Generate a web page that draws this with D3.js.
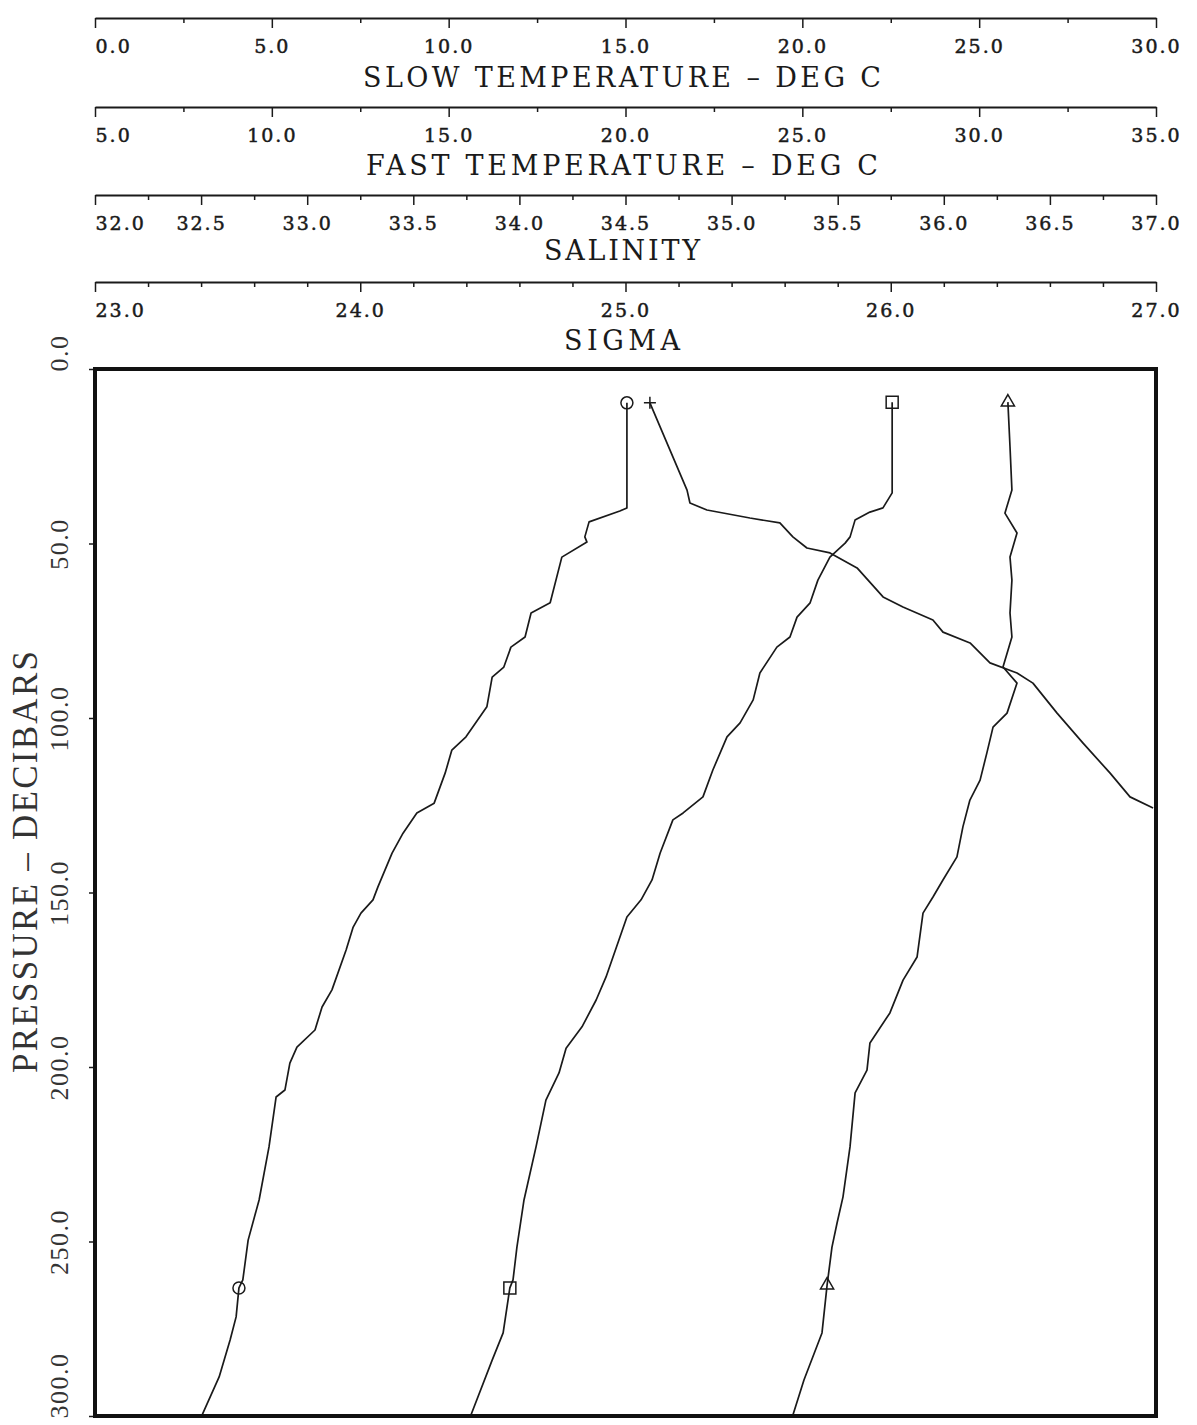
<!DOCTYPE html>
<html>
<head>
<meta charset="utf-8">
<script src="https://cdn.jsdelivr.net/npm/d3@7"></script>
<style>
  body { margin: 0; background: #fff; }
  svg { display: block; }
</style>
</head>
<body>
<div id="chart"></div>
<script>
// CTD cast: slow / fast temperature, salinity and sigma against pressure

// series values: [pressure (dbar), value]
var slowTemp = [[9.7,15.04],[39.8,15.04],[40.7,14.84],[43.8,13.97],[48.1,13.85],[49.6,13.91],[53.9,13.20],[67.0,12.87],
  [69.9,12.33],[76.8,12.16],[79.7,11.76],[85.4,11.56],[88.3,11.23],[96.8,11.08],[105.4,10.49],[109.2,10.09],[115.8,9.90],
  [124.4,9.59],[127.2,9.10],[133.0,8.71],[138.7,8.40],[148.4,8.00],[152.1,7.86],[155.9,7.52],[159.9,7.30],[166.5,7.10],
  [177.9,6.70],[182.8,6.42],[189.4,6.22],[194.3,5.71],[198.9,5.51],[206.6,5.37],[208.6,5.12],[222.9,4.92],[238.1,4.64],
  [249.6,4.33],[261.0,4.18],[263.3,4.07],[271.6,3.99],[278.2,3.82],[288.8,3.51],[299.7,3.03]];

var fastTemp = [[9.5,27.54],[35.5,27.54],[39.8,27.28],[41.0,26.91],[43.3,26.49],[48.1,26.35],[49.9,26.21],[53.9,25.78],
  [60.5,25.44],[67.0,25.22],[71.1,24.85],[76.8,24.65],[79.7,24.28],[87.1,23.80],[94.8,23.61],[101.4,23.24],[105.4,22.87],
  [114.9,22.47],[122.6,22.19],[127.2,21.63],[129.2,21.34],[138.7,20.98],[146.4,20.75],[152.1,20.44],[157.0,20.04],
  [174.2,19.45],[180.8,19.17],[188.5,18.77],[194.6,18.32],[201.7,18.12],[209.5,17.75],[222.9,17.47],[238.1,17.13],
  [251.6,16.93],[261.0,16.82],[263.3,16.73],[276.2,16.54],[284.0,16.23],[299.7,15.63]];

var salinity = [[9.5,36.302],[22.3,36.312],[34.7,36.321],[41.3,36.288],[47.0,36.345],[53.9,36.312],[60.5,36.321],
  [69.9,36.312],[76.8,36.321],[85.4,36.279],[90.0,36.345],[98.6,36.298],[102.6,36.232],[110.0,36.203],[117.8,36.171],
  [123.5,36.123],[131.2,36.090],[139.8,36.062],[146.4,35.996],[151.3,35.949],[155.9,35.902],[168.5,35.874],[175.1,35.808],
  [184.5,35.746],[193.1,35.652],[200.9,35.638],[207.4,35.582],[222.9,35.558],[237.2,35.525],[244.7,35.497],[251.6,35.473],
  [262.5,35.450],[276.2,35.426],[289.7,35.341],[299.7,35.289]];

var sigma = [[9.7,25.092],[34.7,25.232],[38.4,25.243],[40.4,25.307],[42.7,25.469],[44.1,25.582],[48.1,25.631],
  [51.3,25.684],[52.7,25.771],[57.0,25.873],[65.3,25.971],[68.2,26.046],[71.9,26.159],[75.4,26.197],[78.5,26.299],
  [84.2,26.374],[87.1,26.476],[90.0,26.536],[98.6,26.627],[107.2,26.725],[115.8,26.827],[122.6,26.902],[125.8,26.989]];

// symbol positions along each trace
var slowTempMarks = [[9.7,15.04],[263.3,4.07]];
var fastTempMarks = [[9.5,27.54],[263.3,16.73]];
var salinityMarks = [[9.5,36.302],[262.5,35.450]];
var sigmaMarks = [[9.7,25.092]];

// tick labels
var slowLabels = [0, 5, 10, 15, 20, 25, 30];
var fastLabels = [5, 10, 15, 20, 25, 30, 35];
var salLabels = [32, 32.5, 33, 33.5, 34, 34.5, 35, 35.5, 36, 36.5, 37];
var sigLabels = [23, 24, 25, 26, 27];
var pressureLabels = [0, 50, 100, 150, 200, 250, 300];

var width = 1197, height = 1425;
var X0 = 95, X1 = 1156, Y0 = 369, Y1 = 1416;
var serif = "'DejaVu Serif', 'Liberation Serif', serif";
var ink = "#1a1a1a";

var svg = d3.select("#chart").append("svg")
    .attr("width", width)
    .attr("height", height);

var xSlow = d3.scaleLinear().domain([0, 30]).range([X0, X1]);
var xFast = d3.scaleLinear().domain([5, 35]).range([X0, X1]);
var xSal = d3.scaleLinear().domain([32, 37]).range([X0, X1]);
var xSig = d3.scaleLinear().domain([23, 27]).range([X0, X1]);
var y = d3.scaleLinear().domain([0, 300]).range([Y0, Y1]);

function topAxis(scale, labels, step, yPos, title, titleY, titleLen) {
    var d = scale.domain();
    var n = Math.round((d[1] - d[0]) / step);
    var minor = d3.range(0, n + 1).map(function(i) { return d[0] + i * step; })
        .filter(function(v) {
            return !labels.some(function(l) { return Math.abs(l - v) < 1e-6; });
        });

    var g = svg.append("g").attr("transform", "translate(0," + yPos + ")");
    g.call(d3.axisBottom(scale).tickValues(minor).tickSize(5).tickSizeOuter(0).tickFormat(""));
    g.select(".domain").attr("stroke", ink).attr("stroke-width", 2);
    g.selectAll(".tick line").attr("stroke", ink).attr("stroke-width", 1.5);

    var m = svg.append("g").attr("transform", "translate(0," + yPos + ")")
        .call(d3.axisBottom(scale).tickValues(labels).tickSize(10).tickPadding(12)
            .tickSizeOuter(0).tickFormat(d3.format(".1f")));
    m.select(".domain").remove();
    m.selectAll(".tick line").attr("stroke", ink).attr("stroke-width", 1.5);
    m.selectAll(".tick text")
        .attr("fill", ink)
        .attr("stroke", ink)
        .attr("stroke-width", 0.5)
        .attr("font-family", serif)
        .attr("font-size", 19)
        .attr("letter-spacing", 2)
        .attr("text-anchor", function(v, i) { return i === 0 ? "start" : "middle"; });

    svg.append("text")
        .attr("x", 622)
        .attr("y", titleY)
        .attr("text-anchor", "middle")
        .attr("font-family", serif)
        .attr("font-size", 27)
        .attr("fill", ink)
        .attr("textLength", titleLen)
        .attr("lengthAdjust", "spacing")
        .text(title);
}

topAxis(xSlow, slowLabels, 2.5, 18, "SLOW TEMPERATURE \u2013 DEG C", 87, 518);
topAxis(xFast, fastLabels, 2.5, 107, "FAST TEMPERATURE \u2013 DEG C", 175, 512);
topAxis(xSal, salLabels, 0.25, 195, "SALINITY", 260, 156);
topAxis(xSig, sigLabels, 0.2, 282, "SIGMA", 350, 116);

// pressure axis
var left = svg.append("g").attr("transform", "translate(" + X0 + ",0)")
    .call(d3.axisLeft(y).tickValues(pressureLabels).tickSize(6).tickSizeOuter(0).tickFormat(d3.format(".1f")));
left.select(".domain").remove();
left.selectAll(".tick line").attr("stroke", ink).attr("stroke-width", 1.5);
left.selectAll(".tick text")
    .attr("transform", "rotate(-90)")
    .attr("x", function(v, i, all) { return (i === 0 || i === all.length - 1) ? -2 : 0; })
    .attr("y", -27)
    .attr("dy", 0)
    .attr("fill", "#333")
    .attr("font-family", "'Liberation Serif', serif")
    .attr("font-size", 26)
    .attr("letter-spacing", 1.5)
    .attr("text-anchor", function(v, i, all) { return (i === 0 || i === all.length - 1) ? "start" : "middle"; });

svg.append("text")
    .attr("transform", "translate(37," + 862 + ") rotate(-90)")
    .attr("text-anchor", "middle")
    .attr("font-family", "'Liberation Serif', serif")
    .attr("font-size", 35)
    .attr("fill", "#333")
    .attr("textLength", 422)
    .attr("lengthAdjust", "spacing")
    .text("PRESSURE \u2013 DECIBARS");

// traces
svg.append("clipPath").attr("id", "plotClip")
  .append("rect")
    .attr("x", X0).attr("y", Y0)
    .attr("width", X1 - X0).attr("height", Y1 - Y0);

var traces = [
    {data: slowTemp, marks: slowTempMarks, x: xSlow, shape: "circle"},
    {data: fastTemp, marks: fastTempMarks, x: xFast, shape: "square"},
    {data: salinity, marks: salinityMarks, x: xSal, shape: "triangle"},
    {data: sigma, marks: sigmaMarks, x: xSig, shape: "plus"}
];

var shapes = {
    circle: d3.symbol().type(d3.symbolCircle).size(113)(),
    square: d3.symbol().type(d3.symbolSquare).size(144)(),
    triangle: d3.symbol().type(d3.symbolTriangle).size(75)(),
    plus: "M-6,0H6M0,-6V6"
};

var plot = svg.append("g").attr("clip-path", "url(#plotClip)");

traces.forEach(function(t) {
    var line = d3.line()
        .x(function(d) { return t.x(d[1]); })
        .y(function(d) { return y(d[0]); });

    plot.append("path")
        .datum(t.data)
        .attr("fill", "none")
        .attr("stroke", ink)
        .attr("stroke-width", 1.7)
        .attr("stroke-linejoin", "round")
        .attr("d", line);

    svg.selectAll(null)
        .data(t.marks)
        .enter().append("path")
        .attr("transform", function(d) { return "translate(" + t.x(d[1]) + "," + y(d[0]) + ")"; })
        .attr("d", shapes[t.shape])
        .attr("fill", "none")
        .attr("stroke", ink)
        .attr("stroke-width", 1.5);
});

// frame
svg.append("rect")
    .attr("x", X0).attr("y", Y0)
    .attr("width", X1 - X0).attr("height", Y1 - Y0)
    .attr("fill", "none")
    .attr("stroke", "#111")
    .attr("stroke-width", 4);
</script>
</body>
</html>
